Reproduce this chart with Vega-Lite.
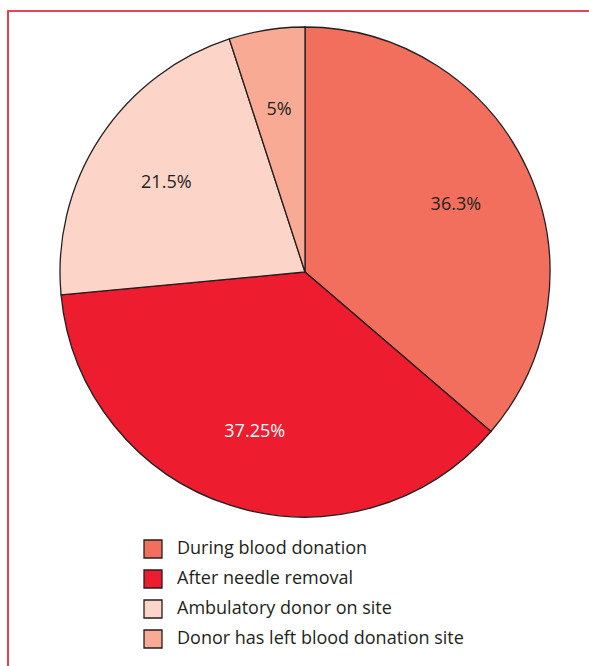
{
  "$schema": "https://vega.github.io/schema/vega-lite/v6.json",
  "width": 594,
  "height": 700,
  "autosize": {"type": "none"},
  "padding": {"left": 8, "top": 11, "right": 0, "bottom": 0},
  "background": "white",
  "config": {
    "view": {"stroke": null},
    "font": "Open Sans"
  },
  "data": {
    "values": [
      {"idx": 1, "category": "During blood donation", "value": 36.3, "label": "36.3%"},
      {"idx": 2, "category": "After needle removal", "value": 37.25, "label": "37.25%"},
      {"idx": 3, "category": "Ambulatory donor on site", "value": 21.5, "label": "21.5%"},
      {"idx": 4, "category": "Donor has left blood donation site", "value": 5, "label": "5%"}
    ]
  },
  "layer": [
    {
      "mark": {"type": "rect", "filled": false, "stroke": "#E8394A", "strokeWidth": 1.2},
      "encoding": {}
    },
    {
      "mark": {"type": "arc", "outerRadius": 245, "yOffset": -89, "stroke": "#231F20", "strokeWidth": 1.3},
      "encoding": {
        "theta": {"field": "value", "type": "quantitative", "stack": true},
        "order": {"field": "idx", "type": "quantitative"},
        "color": {
          "field": "category",
          "type": "nominal",
          "scale": {
            "domain": ["During blood donation", "After needle removal", "Ambulatory donor on site", "Donor has left blood donation site"],
            "range": ["#F26F5E", "#ED1C2E", "#FDD5C8", "#F8AA94"]
          },
          "legend": {
            "title": null,
            "orient": "none",
            "legendX": 135,
            "legendY": 528,
            "padding": 0,
            "symbolType": "square",
            "symbolSize": 324,
            "symbolStrokeColor": "#231F20",
            "symbolStrokeWidth": 1.3,
            "symbolOpacity": 1,
            "labelFontSize": 18,
            "labelColor": "#231F20",
            "labelFont": "Open Sans",
            "labelOffset": 14,
            "rowPadding": 6,
            "labelLimit": 400
          }
        }
      }
    },
    {
      "mark": {"type": "text", "radius": 166, "yOffset": -87, "fontSize": 18, "font": "Open Sans"},
      "encoding": {
        "theta": {"field": "value", "type": "quantitative", "stack": true},
        "order": {"field": "idx", "type": "quantitative"},
        "text": {"field": "label"},
        "color": {
          "condition": {"test": "datum.idx === 2", "value": "white"},
          "value": "#231F20"
        }
      }
    }
  ]
}
